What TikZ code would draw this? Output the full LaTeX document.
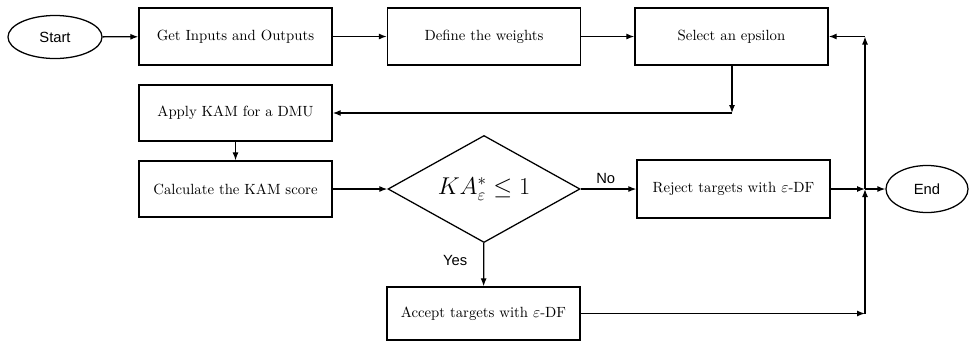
\documentclass[tikz,border=0pt]{standalone}
\usepackage{amsmath,amssymb}
\usepackage{fontspec}
\newfontfamily\labelfont{Liberation Sans}
\usetikzlibrary{shapes.geometric,arrows.meta}

\begin{document}
\begin{tikzpicture}[x=0.025cm,y=-0.025cm,
  box/.style={draw,line width=0.9pt,minimum width=4.825cm,minimum height=1.425cm,inner sep=0pt,font=\fontsize{10.5pt}{12pt}\selectfont},
  term/.style={draw,ellipse,line width=0.9pt,inner sep=0pt,font=\labelfont\fontsize{10.5pt}{12pt}\selectfont},
  arr/.style={-{Latex[length=2mm,width=1.5mm]},line width=0.9pt},
  lbl/.style={font=\labelfont\fontsize{10.5pt}{12pt}\selectfont}]
\useasboundingbox (0,0) rectangle (971,343);
\node[term,minimum width=2.35cm,minimum height=1.075cm] (start) at (55,37) {Start};
\node[box] (inputs) at (235.5,36.5) {Get Inputs and Outputs};
\node[box] (weights) at (484,36.5) {Define the weights};
\node[box] (epsilon) at (731.5,36.5) {Select an epsilon};
\node[box,minimum height=1.4cm] (apply) at (235.5,113) {Apply KAM for a DMU};
\node[box,minimum height=1.4cm] (calc) at (235.5,189) {Calculate the KAM score};
\node[draw,diamond,line width=0.9pt,inner sep=0pt,aspect=1.8,minimum width=4.8cm,minimum height=2.675cm,font=\LARGE] (dec) at (484,189) {$KA_{\varepsilon}^{*}\leq 1$};
\node[box,minimum height=1.45cm] (reject) at (733.5,189) {Reject targets with $\varepsilon$-DF};
\node[box,minimum height=1.325cm] (accept) at (483.5,313.5) {Accept targets with $\varepsilon$-DF};
\node[term,minimum width=2.05cm,minimum height=1.175cm] (finish) at (927,189) {End};
\coordinate (e1) at (732,113);
\coordinate (j1) at (865,36.5);
\coordinate (j2) at (865,189);
\coordinate (j3) at (865,313.5);
\draw[arr] (start) -- (inputs);
\draw[arr] (inputs) -- (weights);
\draw[arr] (weights) -- (epsilon);
\draw[arr] (epsilon.south -| e1) -- (e1);
\draw[arr] (e1) -- (apply);
\draw[arr] (apply) -- (calc);
\draw[arr] (calc) -- (dec);
\draw[arr] (dec) -- node[lbl,above,pos=0.45] {No} (reject);
\draw[arr] (dec) -- node[lbl,left=8pt,pos=0.4] {Yes} (accept);
\draw[arr] (reject) -- (j2);
\draw[arr] (j2) -- (finish);
\draw[arr] (accept) -- (j3);
\draw[arr] (j3) -- (j2);
\draw[arr] (j2) -- (j1);
\draw[arr] (j1) -- (epsilon);
\end{tikzpicture}
\end{document}
